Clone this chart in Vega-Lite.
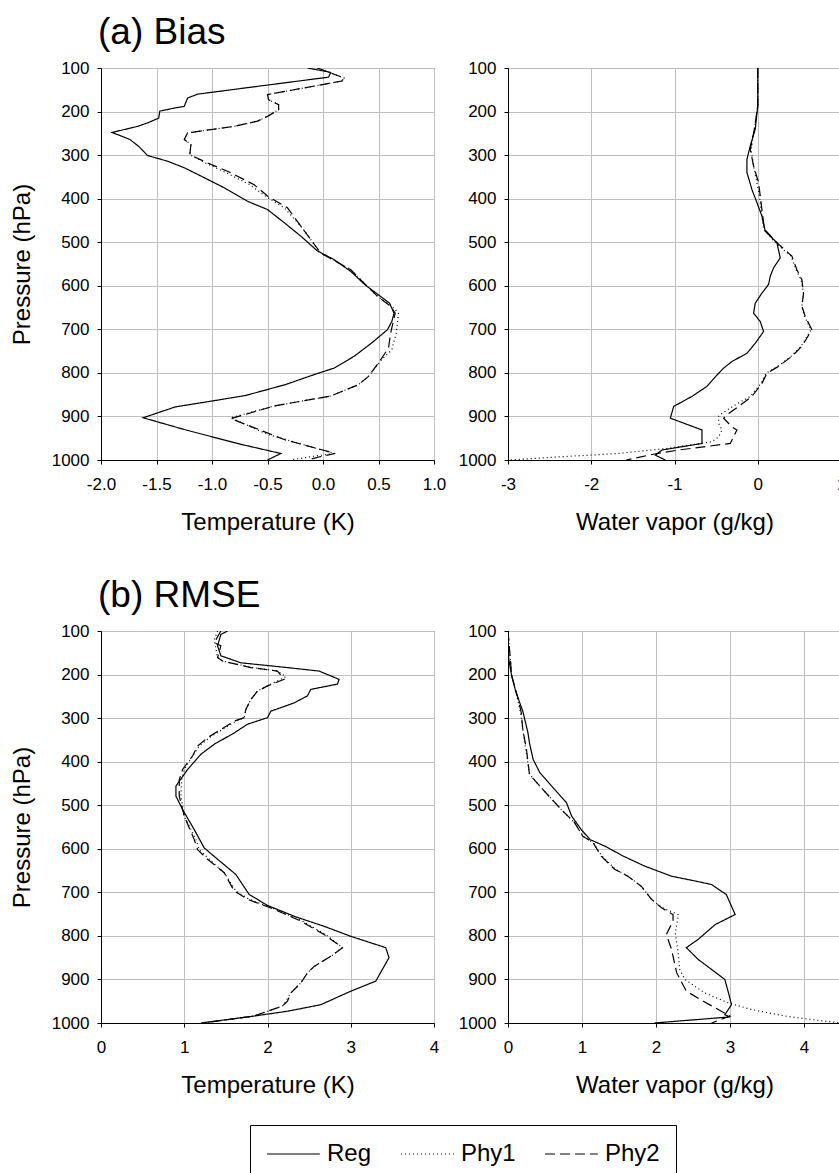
{
  "$schema": "https://vega.github.io/schema/vega-lite/v6.json",
  "background": "white",
  "padding": {"left": 9, "top": 13, "right": 0, "bottom": 0},
  "config": {
    "font": "Liberation Sans",
    "view": {"stroke": "#3c3c3c", "strokeWidth": 1},
    "axis": {
      "labelFont": "Liberation Sans", "labelFontSize": 17, "labelColor": "black",
      "titleFont": "Liberation Sans", "titleFontSize": 24, "titleFontWeight": "normal", "titleColor": "black",
      "gridColor": "#c0c0c0", "gridWidth": 1, "domainColor": "black", "tickColor": "black", "tickSize": 4,
      "labelFlush": false, "labelOverlap": false,
      "labelExpr": "replace(datum.label, '\u2212', '-')"
    },
    "axisX": {"labelPadding": 12, "titlePadding": 18},
    "axisY": {"labelPadding": 8, "titlePadding": 17, "format": "d"},
    "title": {"font": "Liberation Sans", "fontSize": 37, "fontWeight": "normal", "color": "black", "anchor": "start", "frame": "group", "offset": 7, "dx": -3}
  },
  "data": {"values": [
    {"panel":"tb","model":"Reg","p":100,"v":-0.14},{"panel":"tb","model":"Reg","p":110,"v":0.07},{"panel":"tb","model":"Reg","p":121,"v":0.05},{"panel":"tb","model":"Reg","p":160,"v":-1.13},{"panel":"tb","model":"Reg","p":169,"v":-1.22},{"panel":"tb","model":"Reg","p":188,"v":-1.25},{"panel":"tb","model":"Reg","p":192,"v":-1.34},{"panel":"tb","model":"Reg","p":199,"v":-1.47},{"panel":"tb","model":"Reg","p":215,"v":-1.48},{"panel":"tb","model":"Reg","p":226,"v":-1.58},{"panel":"tb","model":"Reg","p":234,"v":-1.67},{"panel":"tb","model":"Reg","p":248,"v":-1.9},{"panel":"tb","model":"Reg","p":264,"v":-1.74},{"panel":"tb","model":"Reg","p":280,"v":-1.66},{"panel":"tb","model":"Reg","p":301,"v":-1.58},{"panel":"tb","model":"Reg","p":314,"v":-1.4},{"panel":"tb","model":"Reg","p":329,"v":-1.25},{"panel":"tb","model":"Reg","p":348,"v":-1.1},{"panel":"tb","model":"Reg","p":375,"v":-0.89},{"panel":"tb","model":"Reg","p":406,"v":-0.68},{"panel":"tb","model":"Reg","p":425,"v":-0.5},{"panel":"tb","model":"Reg","p":455,"v":-0.35},{"panel":"tb","model":"Reg","p":486,"v":-0.2},{"panel":"tb","model":"Reg","p":520,"v":-0.05},{"panel":"tb","model":"Reg","p":540,"v":0.1},{"panel":"tb","model":"Reg","p":567,"v":0.25},{"panel":"tb","model":"Reg","p":598,"v":0.38},{"panel":"tb","model":"Reg","p":640,"v":0.6},{"panel":"tb","model":"Reg","p":663,"v":0.64},{"panel":"tb","model":"Reg","p":682,"v":0.62},{"panel":"tb","model":"Reg","p":701,"v":0.58},{"panel":"tb","model":"Reg","p":731,"v":0.44},{"panel":"tb","model":"Reg","p":762,"v":0.28},{"panel":"tb","model":"Reg","p":789,"v":0.1},{"panel":"tb","model":"Reg","p":804,"v":-0.08},{"panel":"tb","model":"Reg","p":827,"v":-0.34},{"panel":"tb","model":"Reg","p":852,"v":-0.7},{"panel":"tb","model":"Reg","p":865,"v":-1.01},{"panel":"tb","model":"Reg","p":878,"v":-1.33},{"panel":"tb","model":"Reg","p":903,"v":-1.62},{"panel":"tb","model":"Reg","p":930,"v":-1.25},{"panel":"tb","model":"Reg","p":964,"v":-0.74},{"panel":"tb","model":"Reg","p":985,"v":-0.38},{"panel":"tb","model":"Reg","p":1000,"v":-0.5},
    {"panel":"tb","model":"Phy2","p":100,"v":-0.05},{"panel":"tb","model":"Phy2","p":123,"v":0.19},{"panel":"tb","model":"Phy2","p":130,"v":0.17},{"panel":"tb","model":"Phy2","p":161,"v":-0.5},{"panel":"tb","model":"Phy2","p":173,"v":-0.49},{"panel":"tb","model":"Phy2","p":184,"v":-0.4},{"panel":"tb","model":"Phy2","p":196,"v":-0.4},{"panel":"tb","model":"Phy2","p":211,"v":-0.5},{"panel":"tb","model":"Phy2","p":222,"v":-0.59},{"panel":"tb","model":"Phy2","p":234,"v":-0.8},{"panel":"tb","model":"Phy2","p":249,"v":-1.22},{"panel":"tb","model":"Phy2","p":264,"v":-1.25},{"panel":"tb","model":"Phy2","p":276,"v":-1.19},{"panel":"tb","model":"Phy2","p":299,"v":-1.2},{"panel":"tb","model":"Phy2","p":318,"v":-1.04},{"panel":"tb","model":"Phy2","p":337,"v":-0.86},{"panel":"tb","model":"Phy2","p":368,"v":-0.62},{"panel":"tb","model":"Phy2","p":394,"v":-0.5},{"panel":"tb","model":"Phy2","p":421,"v":-0.32},{"panel":"tb","model":"Phy2","p":463,"v":-0.2},{"panel":"tb","model":"Phy2","p":525,"v":-0.02},{"panel":"tb","model":"Phy2","p":563,"v":0.25},{"panel":"tb","model":"Phy2","p":594,"v":0.37},{"panel":"tb","model":"Phy2","p":624,"v":0.49},{"panel":"tb","model":"Phy2","p":647,"v":0.61},{"panel":"tb","model":"Phy2","p":663,"v":0.65},{"panel":"tb","model":"Phy2","p":708,"v":0.61},{"panel":"tb","model":"Phy2","p":743,"v":0.59},{"panel":"tb","model":"Phy2","p":777,"v":0.5},{"panel":"tb","model":"Phy2","p":808,"v":0.41},{"panel":"tb","model":"Phy2","p":827,"v":0.32},{"panel":"tb","model":"Phy2","p":853,"v":0.07},{"panel":"tb","model":"Phy2","p":876,"v":-0.44},{"panel":"tb","model":"Phy2","p":905,"v":-0.83},{"panel":"tb","model":"Phy2","p":953,"v":-0.35},{"panel":"tb","model":"Phy2","p":985,"v":0.11},{"panel":"tb","model":"Phy2","p":992,"v":-0.02},{"panel":"tb","model":"Phy2","p":1000,"v":-0.14},
    {"panel":"tb","model":"Phy1","p":100,"v":-0.05},{"panel":"tb","model":"Phy1","p":123,"v":0.19},{"panel":"tb","model":"Phy1","p":130,"v":0.17},{"panel":"tb","model":"Phy1","p":161,"v":-0.5},{"panel":"tb","model":"Phy1","p":173,"v":-0.49},{"panel":"tb","model":"Phy1","p":184,"v":-0.4},{"panel":"tb","model":"Phy1","p":196,"v":-0.4},{"panel":"tb","model":"Phy1","p":211,"v":-0.5},{"panel":"tb","model":"Phy1","p":222,"v":-0.59},{"panel":"tb","model":"Phy1","p":234,"v":-0.8},{"panel":"tb","model":"Phy1","p":249,"v":-1.22},{"panel":"tb","model":"Phy1","p":264,"v":-1.25},{"panel":"tb","model":"Phy1","p":276,"v":-1.19},{"panel":"tb","model":"Phy1","p":299,"v":-1.2},{"panel":"tb","model":"Phy1","p":318,"v":-1.06},{"panel":"tb","model":"Phy1","p":337,"v":-0.9},{"panel":"tb","model":"Phy1","p":368,"v":-0.66},{"panel":"tb","model":"Phy1","p":394,"v":-0.52},{"panel":"tb","model":"Phy1","p":421,"v":-0.35},{"panel":"tb","model":"Phy1","p":463,"v":-0.2},{"panel":"tb","model":"Phy1","p":525,"v":-0.02},{"panel":"tb","model":"Phy1","p":563,"v":0.25},{"panel":"tb","model":"Phy1","p":594,"v":0.37},{"panel":"tb","model":"Phy1","p":624,"v":0.49},{"panel":"tb","model":"Phy1","p":647,"v":0.62},{"panel":"tb","model":"Phy1","p":663,"v":0.68},{"panel":"tb","model":"Phy1","p":708,"v":0.66},{"panel":"tb","model":"Phy1","p":747,"v":0.62},{"panel":"tb","model":"Phy1","p":769,"v":0.53},{"panel":"tb","model":"Phy1","p":808,"v":0.41},{"panel":"tb","model":"Phy1","p":827,"v":0.32},{"panel":"tb","model":"Phy1","p":853,"v":0.07},{"panel":"tb","model":"Phy1","p":876,"v":-0.44},{"panel":"tb","model":"Phy1","p":903,"v":-0.83},{"panel":"tb","model":"Phy1","p":941,"v":-0.5},{"panel":"tb","model":"Phy1","p":985,"v":0.1},{"panel":"tb","model":"Phy1","p":992,"v":-0.1},{"panel":"tb","model":"Phy1","p":1000,"v":-0.29},
    {"panel":"qb","model":"Reg","p":100,"v":0.0},{"panel":"qb","model":"Reg","p":187,"v":0.0},{"panel":"qb","model":"Reg","p":240,"v":-0.03},{"panel":"qb","model":"Reg","p":279,"v":-0.09},{"panel":"qb","model":"Reg","p":310,"v":-0.13},{"panel":"qb","model":"Reg","p":340,"v":-0.13},{"panel":"qb","model":"Reg","p":379,"v":-0.07},{"panel":"qb","model":"Reg","p":409,"v":-0.01},{"panel":"qb","model":"Reg","p":440,"v":0.05},{"panel":"qb","model":"Reg","p":475,"v":0.09},{"panel":"qb","model":"Reg","p":501,"v":0.23},{"panel":"qb","model":"Reg","p":536,"v":0.27},{"panel":"qb","model":"Reg","p":559,"v":0.19},{"panel":"qb","model":"Reg","p":578,"v":0.15},{"panel":"qb","model":"Reg","p":597,"v":0.13},{"panel":"qb","model":"Reg","p":617,"v":0.05},{"panel":"qb","model":"Reg","p":640,"v":-0.03},{"panel":"qb","model":"Reg","p":663,"v":-0.05},{"panel":"qb","model":"Reg","p":682,"v":0.03},{"panel":"qb","model":"Reg","p":705,"v":0.07},{"panel":"qb","model":"Reg","p":732,"v":-0.03},{"panel":"qb","model":"Reg","p":755,"v":-0.13},{"panel":"qb","model":"Reg","p":774,"v":-0.31},{"panel":"qb","model":"Reg","p":789,"v":-0.41},{"panel":"qb","model":"Reg","p":805,"v":-0.49},{"panel":"qb","model":"Reg","p":831,"v":-0.61},{"panel":"qb","model":"Reg","p":854,"v":-0.79},{"panel":"qb","model":"Reg","p":877,"v":-1.01},{"panel":"qb","model":"Reg","p":904,"v":-1.05},{"panel":"qb","model":"Reg","p":931,"v":-0.67},{"panel":"qb","model":"Reg","p":962,"v":-0.67},{"panel":"qb","model":"Reg","p":977,"v":-1.15},{"panel":"qb","model":"Reg","p":989,"v":-1.23},{"panel":"qb","model":"Reg","p":1000,"v":-1.11},
    {"panel":"qb","model":"Phy2","p":100,"v":0.0},{"panel":"qb","model":"Phy2","p":187,"v":0.0},{"panel":"qb","model":"Phy2","p":240,"v":-0.04},{"panel":"qb","model":"Phy2","p":287,"v":-0.09},{"panel":"qb","model":"Phy2","p":325,"v":-0.05},{"panel":"qb","model":"Phy2","p":363,"v":0.01},{"panel":"qb","model":"Phy2","p":394,"v":0.03},{"panel":"qb","model":"Phy2","p":425,"v":0.05},{"panel":"qb","model":"Phy2","p":470,"v":0.08},{"panel":"qb","model":"Phy2","p":501,"v":0.23},{"panel":"qb","model":"Phy2","p":532,"v":0.41},{"panel":"qb","model":"Phy2","p":563,"v":0.47},{"panel":"qb","model":"Phy2","p":586,"v":0.53},{"panel":"qb","model":"Phy2","p":617,"v":0.55},{"panel":"qb","model":"Phy2","p":647,"v":0.53},{"panel":"qb","model":"Phy2","p":670,"v":0.57},{"panel":"qb","model":"Phy2","p":701,"v":0.65},{"panel":"qb","model":"Phy2","p":739,"v":0.53},{"panel":"qb","model":"Phy2","p":762,"v":0.41},{"panel":"qb","model":"Phy2","p":785,"v":0.25},{"panel":"qb","model":"Phy2","p":801,"v":0.11},{"panel":"qb","model":"Phy2","p":824,"v":0.05},{"panel":"qb","model":"Phy2","p":854,"v":-0.07},{"panel":"qb","model":"Phy2","p":877,"v":-0.23},{"panel":"qb","model":"Phy2","p":893,"v":-0.35},{"panel":"qb","model":"Phy2","p":904,"v":-0.41},{"panel":"qb","model":"Phy2","p":924,"v":-0.31},{"panel":"qb","model":"Phy2","p":931,"v":-0.25},{"panel":"qb","model":"Phy2","p":962,"v":-0.33},{"panel":"qb","model":"Phy2","p":977,"v":-0.95},{"panel":"qb","model":"Phy2","p":985,"v":-1.21},{"panel":"qb","model":"Phy2","p":1000,"v":-1.58},
    {"panel":"qb","model":"Phy1","p":100,"v":0.0},{"panel":"qb","model":"Phy1","p":187,"v":0.0},{"panel":"qb","model":"Phy1","p":240,"v":-0.04},{"panel":"qb","model":"Phy1","p":287,"v":-0.08},{"panel":"qb","model":"Phy1","p":325,"v":-0.05},{"panel":"qb","model":"Phy1","p":363,"v":-0.01},{"panel":"qb","model":"Phy1","p":394,"v":0.02},{"panel":"qb","model":"Phy1","p":425,"v":0.04},{"panel":"qb","model":"Phy1","p":470,"v":0.07},{"panel":"qb","model":"Phy1","p":501,"v":0.21},{"panel":"qb","model":"Phy1","p":532,"v":0.4},{"panel":"qb","model":"Phy1","p":563,"v":0.46},{"panel":"qb","model":"Phy1","p":586,"v":0.52},{"panel":"qb","model":"Phy1","p":617,"v":0.55},{"panel":"qb","model":"Phy1","p":647,"v":0.53},{"panel":"qb","model":"Phy1","p":670,"v":0.56},{"panel":"qb","model":"Phy1","p":701,"v":0.64},{"panel":"qb","model":"Phy1","p":739,"v":0.52},{"panel":"qb","model":"Phy1","p":762,"v":0.4},{"panel":"qb","model":"Phy1","p":785,"v":0.24},{"panel":"qb","model":"Phy1","p":801,"v":0.1},{"panel":"qb","model":"Phy1","p":824,"v":0.04},{"panel":"qb","model":"Phy1","p":854,"v":-0.09},{"panel":"qb","model":"Phy1","p":877,"v":-0.3},{"panel":"qb","model":"Phy1","p":893,"v":-0.43},{"panel":"qb","model":"Phy1","p":900,"v":-0.47},{"panel":"qb","model":"Phy1","p":916,"v":-0.47},{"panel":"qb","model":"Phy1","p":931,"v":-0.43},{"panel":"qb","model":"Phy1","p":947,"v":-0.47},{"panel":"qb","model":"Phy1","p":958,"v":-0.55},{"panel":"qb","model":"Phy1","p":973,"v":-1.07},{"panel":"qb","model":"Phy1","p":985,"v":-1.68},{"panel":"qb","model":"Phy1","p":994,"v":-2.48},{"panel":"qb","model":"Phy1","p":1000,"v":-3.0},
    {"panel":"tr","model":"Reg","p":100,"v":1.52},{"panel":"tr","model":"Reg","p":108,"v":1.44},{"panel":"tr","model":"Reg","p":134,"v":1.4},{"panel":"tr","model":"Reg","p":157,"v":1.44},{"panel":"tr","model":"Reg","p":173,"v":1.68},{"panel":"tr","model":"Reg","p":184,"v":2.24},{"panel":"tr","model":"Reg","p":192,"v":2.62},{"panel":"tr","model":"Reg","p":211,"v":2.86},{"panel":"tr","model":"Reg","p":222,"v":2.84},{"panel":"tr","model":"Reg","p":234,"v":2.52},{"panel":"tr","model":"Reg","p":249,"v":2.48},{"panel":"tr","model":"Reg","p":265,"v":2.32},{"panel":"tr","model":"Reg","p":276,"v":2.16},{"panel":"tr","model":"Reg","p":284,"v":2.04},{"panel":"tr","model":"Reg","p":299,"v":2.0},{"panel":"tr","model":"Reg","p":314,"v":1.76},{"panel":"tr","model":"Reg","p":334,"v":1.6},{"panel":"tr","model":"Reg","p":360,"v":1.36},{"panel":"tr","model":"Reg","p":383,"v":1.2},{"panel":"tr","model":"Reg","p":418,"v":1.04},{"panel":"tr","model":"Reg","p":456,"v":0.9},{"panel":"tr","model":"Reg","p":479,"v":0.9},{"panel":"tr","model":"Reg","p":510,"v":0.98},{"panel":"tr","model":"Reg","p":556,"v":1.12},{"panel":"tr","model":"Reg","p":598,"v":1.24},{"panel":"tr","model":"Reg","p":624,"v":1.4},{"panel":"tr","model":"Reg","p":659,"v":1.62},{"panel":"tr","model":"Reg","p":705,"v":1.78},{"panel":"tr","model":"Reg","p":730,"v":2.0},{"panel":"tr","model":"Reg","p":755,"v":2.32},{"panel":"tr","model":"Reg","p":778,"v":2.68},{"panel":"tr","model":"Reg","p":801,"v":3.0},{"panel":"tr","model":"Reg","p":827,"v":3.42},{"panel":"tr","model":"Reg","p":850,"v":3.46},{"panel":"tr","model":"Reg","p":904,"v":3.3},{"panel":"tr","model":"Reg","p":927,"v":3.0},{"panel":"tr","model":"Reg","p":958,"v":2.64},{"panel":"tr","model":"Reg","p":973,"v":2.24},{"panel":"tr","model":"Reg","p":984,"v":1.84},{"panel":"tr","model":"Reg","p":1000,"v":1.2},
    {"panel":"tr","model":"Phy2","p":100,"v":1.44},{"panel":"tr","model":"Phy2","p":127,"v":1.36},{"panel":"tr","model":"Phy2","p":134,"v":1.44},{"panel":"tr","model":"Phy2","p":161,"v":1.4},{"panel":"tr","model":"Phy2","p":169,"v":1.46},{"panel":"tr","model":"Phy2","p":184,"v":1.8},{"panel":"tr","model":"Phy2","p":192,"v":2.12},{"panel":"tr","model":"Phy2","p":211,"v":2.2},{"panel":"tr","model":"Phy2","p":226,"v":2.0},{"panel":"tr","model":"Phy2","p":238,"v":1.88},{"panel":"tr","model":"Phy2","p":257,"v":1.8},{"panel":"tr","model":"Phy2","p":280,"v":1.74},{"panel":"tr","model":"Phy2","p":299,"v":1.72},{"panel":"tr","model":"Phy2","p":307,"v":1.6},{"panel":"tr","model":"Phy2","p":326,"v":1.44},{"panel":"tr","model":"Phy2","p":345,"v":1.28},{"panel":"tr","model":"Phy2","p":364,"v":1.16},{"panel":"tr","model":"Phy2","p":387,"v":1.1},{"panel":"tr","model":"Phy2","p":402,"v":1.04},{"panel":"tr","model":"Phy2","p":418,"v":0.98},{"panel":"tr","model":"Phy2","p":441,"v":0.94},{"panel":"tr","model":"Phy2","p":479,"v":0.94},{"panel":"tr","model":"Phy2","p":525,"v":1.0},{"panel":"tr","model":"Phy2","p":579,"v":1.12},{"panel":"tr","model":"Phy2","p":602,"v":1.16},{"panel":"tr","model":"Phy2","p":624,"v":1.28},{"panel":"tr","model":"Phy2","p":655,"v":1.48},{"panel":"tr","model":"Phy2","p":697,"v":1.6},{"panel":"tr","model":"Phy2","p":716,"v":1.76},{"panel":"tr","model":"Phy2","p":739,"v":2.08},{"panel":"tr","model":"Phy2","p":766,"v":2.4},{"panel":"tr","model":"Phy2","p":797,"v":2.68},{"panel":"tr","model":"Phy2","p":827,"v":2.9},{"panel":"tr","model":"Phy2","p":847,"v":2.76},{"panel":"tr","model":"Phy2","p":870,"v":2.56},{"panel":"tr","model":"Phy2","p":885,"v":2.48},{"panel":"tr","model":"Phy2","p":908,"v":2.4},{"panel":"tr","model":"Phy2","p":931,"v":2.28},{"panel":"tr","model":"Phy2","p":950,"v":2.24},{"panel":"tr","model":"Phy2","p":961,"v":2.18},{"panel":"tr","model":"Phy2","p":973,"v":2.0},{"panel":"tr","model":"Phy2","p":984,"v":1.84},{"panel":"tr","model":"Phy2","p":1000,"v":1.22},
    {"panel":"tr","model":"Phy1","p":100,"v":1.4},{"panel":"tr","model":"Phy1","p":120,"v":1.36},{"panel":"tr","model":"Phy1","p":140,"v":1.38},{"panel":"tr","model":"Phy1","p":161,"v":1.4},{"panel":"tr","model":"Phy1","p":169,"v":1.46},{"panel":"tr","model":"Phy1","p":184,"v":1.82},{"panel":"tr","model":"Phy1","p":192,"v":2.12},{"panel":"tr","model":"Phy1","p":205,"v":2.22},{"panel":"tr","model":"Phy1","p":226,"v":2.0},{"panel":"tr","model":"Phy1","p":238,"v":1.88},{"panel":"tr","model":"Phy1","p":257,"v":1.8},{"panel":"tr","model":"Phy1","p":280,"v":1.74},{"panel":"tr","model":"Phy1","p":299,"v":1.72},{"panel":"tr","model":"Phy1","p":307,"v":1.62},{"panel":"tr","model":"Phy1","p":326,"v":1.46},{"panel":"tr","model":"Phy1","p":345,"v":1.3},{"panel":"tr","model":"Phy1","p":364,"v":1.18},{"panel":"tr","model":"Phy1","p":387,"v":1.1},{"panel":"tr","model":"Phy1","p":402,"v":1.05},{"panel":"tr","model":"Phy1","p":418,"v":1.0},{"panel":"tr","model":"Phy1","p":441,"v":0.97},{"panel":"tr","model":"Phy1","p":479,"v":0.96},{"panel":"tr","model":"Phy1","p":525,"v":1.0},{"panel":"tr","model":"Phy1","p":579,"v":1.14},{"panel":"tr","model":"Phy1","p":602,"v":1.18},{"panel":"tr","model":"Phy1","p":624,"v":1.3},{"panel":"tr","model":"Phy1","p":655,"v":1.48},{"panel":"tr","model":"Phy1","p":697,"v":1.62},{"panel":"tr","model":"Phy1","p":716,"v":1.78},{"panel":"tr","model":"Phy1","p":739,"v":2.1},{"panel":"tr","model":"Phy1","p":766,"v":2.42},{"panel":"tr","model":"Phy1","p":797,"v":2.7},{"panel":"tr","model":"Phy1","p":827,"v":2.9},{"panel":"tr","model":"Phy1","p":847,"v":2.76},{"panel":"tr","model":"Phy1","p":870,"v":2.56},{"panel":"tr","model":"Phy1","p":885,"v":2.48},{"panel":"tr","model":"Phy1","p":908,"v":2.4},{"panel":"tr","model":"Phy1","p":931,"v":2.28},{"panel":"tr","model":"Phy1","p":950,"v":2.22},{"panel":"tr","model":"Phy1","p":961,"v":2.18},{"panel":"tr","model":"Phy1","p":973,"v":2.0},{"panel":"tr","model":"Phy1","p":984,"v":1.84},{"panel":"tr","model":"Phy1","p":1000,"v":1.24},
    {"panel":"qr","model":"Reg","p":100,"v":0.0},{"panel":"qr","model":"Reg","p":165,"v":0.01},{"panel":"qr","model":"Reg","p":203,"v":0.05},{"panel":"qr","model":"Reg","p":242,"v":0.11},{"panel":"qr","model":"Reg","p":284,"v":0.2},{"panel":"qr","model":"Reg","p":334,"v":0.27},{"panel":"qr","model":"Reg","p":357,"v":0.29},{"panel":"qr","model":"Reg","p":395,"v":0.34},{"panel":"qr","model":"Reg","p":425,"v":0.43},{"panel":"qr","model":"Reg","p":456,"v":0.59},{"panel":"qr","model":"Reg","p":494,"v":0.79},{"panel":"qr","model":"Reg","p":525,"v":0.86},{"panel":"qr","model":"Reg","p":556,"v":0.99},{"panel":"qr","model":"Reg","p":579,"v":1.11},{"panel":"qr","model":"Reg","p":594,"v":1.31},{"panel":"qr","model":"Reg","p":617,"v":1.56},{"panel":"qr","model":"Reg","p":640,"v":1.85},{"panel":"qr","model":"Reg","p":663,"v":2.21},{"panel":"qr","model":"Reg","p":674,"v":2.53},{"panel":"qr","model":"Reg","p":682,"v":2.75},{"panel":"qr","model":"Reg","p":705,"v":2.95},{"panel":"qr","model":"Reg","p":751,"v":3.07},{"panel":"qr","model":"Reg","p":774,"v":2.8},{"panel":"qr","model":"Reg","p":808,"v":2.57},{"panel":"qr","model":"Reg","p":827,"v":2.41},{"panel":"qr","model":"Reg","p":854,"v":2.57},{"panel":"qr","model":"Reg","p":877,"v":2.75},{"panel":"qr","model":"Reg","p":900,"v":2.93},{"panel":"qr","model":"Reg","p":931,"v":2.98},{"panel":"qr","model":"Reg","p":958,"v":3.02},{"panel":"qr","model":"Reg","p":981,"v":2.93},{"panel":"qr","model":"Reg","p":986,"v":3.0},{"panel":"qr","model":"Reg","p":1000,"v":1.98},
    {"panel":"qr","model":"Phy2","p":100,"v":0.0},{"panel":"qr","model":"Phy2","p":203,"v":0.05},{"panel":"qr","model":"Phy2","p":257,"v":0.14},{"panel":"qr","model":"Phy2","p":288,"v":0.18},{"panel":"qr","model":"Phy2","p":326,"v":0.2},{"panel":"qr","model":"Phy2","p":372,"v":0.25},{"panel":"qr","model":"Phy2","p":429,"v":0.29},{"panel":"qr","model":"Phy2","p":460,"v":0.45},{"panel":"qr","model":"Phy2","p":510,"v":0.72},{"panel":"qr","model":"Phy2","p":540,"v":0.9},{"panel":"qr","model":"Phy2","p":571,"v":1.01},{"panel":"qr","model":"Phy2","p":586,"v":1.15},{"panel":"qr","model":"Phy2","p":617,"v":1.26},{"panel":"qr","model":"Phy2","p":647,"v":1.44},{"panel":"qr","model":"Phy2","p":663,"v":1.62},{"panel":"qr","model":"Phy2","p":686,"v":1.8},{"panel":"qr","model":"Phy2","p":716,"v":1.94},{"panel":"qr","model":"Phy2","p":735,"v":2.07},{"panel":"qr","model":"Phy2","p":751,"v":2.23},{"panel":"qr","model":"Phy2","p":766,"v":2.23},{"panel":"qr","model":"Phy2","p":797,"v":2.14},{"panel":"qr","model":"Phy2","p":831,"v":2.21},{"panel":"qr","model":"Phy2","p":885,"v":2.28},{"panel":"qr","model":"Phy2","p":927,"v":2.41},{"panel":"qr","model":"Phy2","p":950,"v":2.64},{"panel":"qr","model":"Phy2","p":969,"v":2.84},{"panel":"qr","model":"Phy2","p":984,"v":3.0},{"panel":"qr","model":"Phy2","p":1000,"v":2.75},
    {"panel":"qr","model":"Phy1","p":100,"v":0.0},{"panel":"qr","model":"Phy1","p":203,"v":0.05},{"panel":"qr","model":"Phy1","p":257,"v":0.13},{"panel":"qr","model":"Phy1","p":288,"v":0.17},{"panel":"qr","model":"Phy1","p":326,"v":0.2},{"panel":"qr","model":"Phy1","p":372,"v":0.24},{"panel":"qr","model":"Phy1","p":429,"v":0.29},{"panel":"qr","model":"Phy1","p":460,"v":0.45},{"panel":"qr","model":"Phy1","p":510,"v":0.72},{"panel":"qr","model":"Phy1","p":540,"v":0.9},{"panel":"qr","model":"Phy1","p":571,"v":1.01},{"panel":"qr","model":"Phy1","p":586,"v":1.15},{"panel":"qr","model":"Phy1","p":617,"v":1.27},{"panel":"qr","model":"Phy1","p":647,"v":1.45},{"panel":"qr","model":"Phy1","p":663,"v":1.62},{"panel":"qr","model":"Phy1","p":686,"v":1.8},{"panel":"qr","model":"Phy1","p":716,"v":1.94},{"panel":"qr","model":"Phy1","p":735,"v":2.08},{"panel":"qr","model":"Phy1","p":751,"v":2.3},{"panel":"qr","model":"Phy1","p":755,"v":2.3},{"panel":"qr","model":"Phy1","p":793,"v":2.26},{"panel":"qr","model":"Phy1","p":839,"v":2.3},{"panel":"qr","model":"Phy1","p":877,"v":2.32},{"panel":"qr","model":"Phy1","p":900,"v":2.39},{"panel":"qr","model":"Phy1","p":931,"v":2.66},{"panel":"qr","model":"Phy1","p":954,"v":2.98},{"panel":"qr","model":"Phy1","p":969,"v":3.29},{"panel":"qr","model":"Phy1","p":984,"v":3.74},{"panel":"qr","model":"Phy1","p":994,"v":4.19},{"panel":"qr","model":"Phy1","p":1000,"v":4.51}
  ]},
  "columns": 2,
  "bounds": "flush",
  "spacing": {"row": 171, "column": 74},
  "resolve": {"scale": {"strokeDash": "shared"}, "legend": {"strokeDash": "shared"}},
  "concat": [
    {
      "width": 333, "height": 392,
      "title": {"text": "(a) Bias"},
      "transform": [{"filter": "datum.panel === 'tb'"}],
      "mark": {"type": "line", "color": "black", "strokeWidth": 1.2, "clip": true},
      "encoding": {
        "x": {"field": "v", "type": "quantitative", "scale": {"domain": [-2, 1], "nice": false, "zero": false}, "axis": {"values": [-2, -1.5, -1, -0.5, 0, 0.5, 1], "format": ".1f", "title": "Temperature (K)"}},
        "y": {"field": "p", "type": "quantitative", "scale": {"domain": [100, 1000], "reverse": true, "nice": false, "zero": false}, "axis": {"values": [100, 200, 300, 400, 500, 600, 700, 800, 900, 1000], "title": "Pressure (hPa)"}},
        "strokeDash": {"field": "model", "type": "nominal", "scale": {"domain": ["Reg", "Phy1", "Phy2"], "range": [[1, 0], [1, 3], [10, 5]]},
          "legend": {"title": null, "orient": "none", "legendX": 149, "legendY": 1057, "direction": "horizontal", "symbolType": "M-1,0H3.4", "symbolSize": 576, "symbolStrokeWidth": 1.2, "symbolStrokeColor": "black", "labelFontSize": 24, "labelFont": "Liberation Sans", "labelColor": "black", "labelOffset": 35, "columnPadding": 26, "strokeColor": "black", "padding": 16, "fillColor": "white"}},
        "order": {"field": "p", "type": "quantitative"}
      }
    },
    {
      "width": 333, "height": 392,
      "transform": [{"filter": "datum.panel === 'qb'"}],
      "mark": {"type": "line", "color": "black", "strokeWidth": 1.2, "clip": true},
      "encoding": {
        "x": {"field": "v", "type": "quantitative", "scale": {"domain": [-3, 1], "nice": false, "zero": false}, "axis": {"values": [-3, -2, -1, 0, 1], "format": "d", "title": "Water vapor (g/kg)"}},
        "y": {"field": "p", "type": "quantitative", "scale": {"domain": [100, 1000], "reverse": true, "nice": false, "zero": false}, "axis": {"values": [100, 200, 300, 400, 500, 600, 700, 800, 900, 1000], "title": null}},
        "strokeDash": {"field": "model", "type": "nominal", "scale": {"domain": ["Reg", "Phy1", "Phy2"], "range": [[1, 0], [1, 3], [10, 5]]},
          "legend": {"title": null, "orient": "none", "legendX": 149, "legendY": 1057, "direction": "horizontal", "symbolType": "M-1,0H3.4", "symbolSize": 576, "symbolStrokeWidth": 1.2, "symbolStrokeColor": "black", "labelFontSize": 24, "labelFont": "Liberation Sans", "labelColor": "black", "labelOffset": 35, "columnPadding": 26, "strokeColor": "black", "padding": 16, "fillColor": "white"}},
        "order": {"field": "p", "type": "quantitative"}
      }
    },
    {
      "width": 333, "height": 392,
      "title": {"text": "(b) RMSE"},
      "transform": [{"filter": "datum.panel === 'tr'"}],
      "mark": {"type": "line", "color": "black", "strokeWidth": 1.2, "clip": true},
      "encoding": {
        "x": {"field": "v", "type": "quantitative", "scale": {"domain": [0, 4], "nice": false, "zero": false}, "axis": {"values": [0, 1, 2, 3, 4], "format": "d", "title": "Temperature (K)"}},
        "y": {"field": "p", "type": "quantitative", "scale": {"domain": [100, 1000], "reverse": true, "nice": false, "zero": false}, "axis": {"values": [100, 200, 300, 400, 500, 600, 700, 800, 900, 1000], "title": "Pressure (hPa)"}},
        "strokeDash": {"field": "model", "type": "nominal", "scale": {"domain": ["Reg", "Phy1", "Phy2"], "range": [[1, 0], [1, 3], [10, 5]]},
          "legend": {"title": null, "orient": "none", "legendX": 149, "legendY": 1057, "direction": "horizontal", "symbolType": "M-1,0H3.4", "symbolSize": 576, "symbolStrokeWidth": 1.2, "symbolStrokeColor": "black", "labelFontSize": 24, "labelFont": "Liberation Sans", "labelColor": "black", "labelOffset": 35, "columnPadding": 26, "strokeColor": "black", "padding": 16, "fillColor": "white"}},
        "order": {"field": "p", "type": "quantitative"}
      }
    },
    {
      "width": 333, "height": 392,
      "transform": [{"filter": "datum.panel === 'qr'"}],
      "mark": {"type": "line", "color": "black", "strokeWidth": 1.2, "clip": true},
      "encoding": {
        "x": {"field": "v", "type": "quantitative", "scale": {"domain": [0, 4.5], "nice": false, "zero": false}, "axis": {"values": [0, 1, 2, 3, 4], "format": "d", "title": "Water vapor (g/kg)"}},
        "y": {"field": "p", "type": "quantitative", "scale": {"domain": [100, 1000], "reverse": true, "nice": false, "zero": false}, "axis": {"values": [100, 200, 300, 400, 500, 600, 700, 800, 900, 1000], "title": null}},
        "strokeDash": {"field": "model", "type": "nominal", "scale": {"domain": ["Reg", "Phy1", "Phy2"], "range": [[1, 0], [1, 3], [10, 5]]},
          "legend": {"title": null, "orient": "none", "legendX": 149, "legendY": 1057, "direction": "horizontal", "symbolType": "M-1,0H3.4", "symbolSize": 576, "symbolStrokeWidth": 1.2, "symbolStrokeColor": "black", "labelFontSize": 24, "labelFont": "Liberation Sans", "labelColor": "black", "labelOffset": 35, "columnPadding": 26, "strokeColor": "black", "padding": 16, "fillColor": "white"}},
        "order": {"field": "p", "type": "quantitative"}
      }
    }
  ]
}
